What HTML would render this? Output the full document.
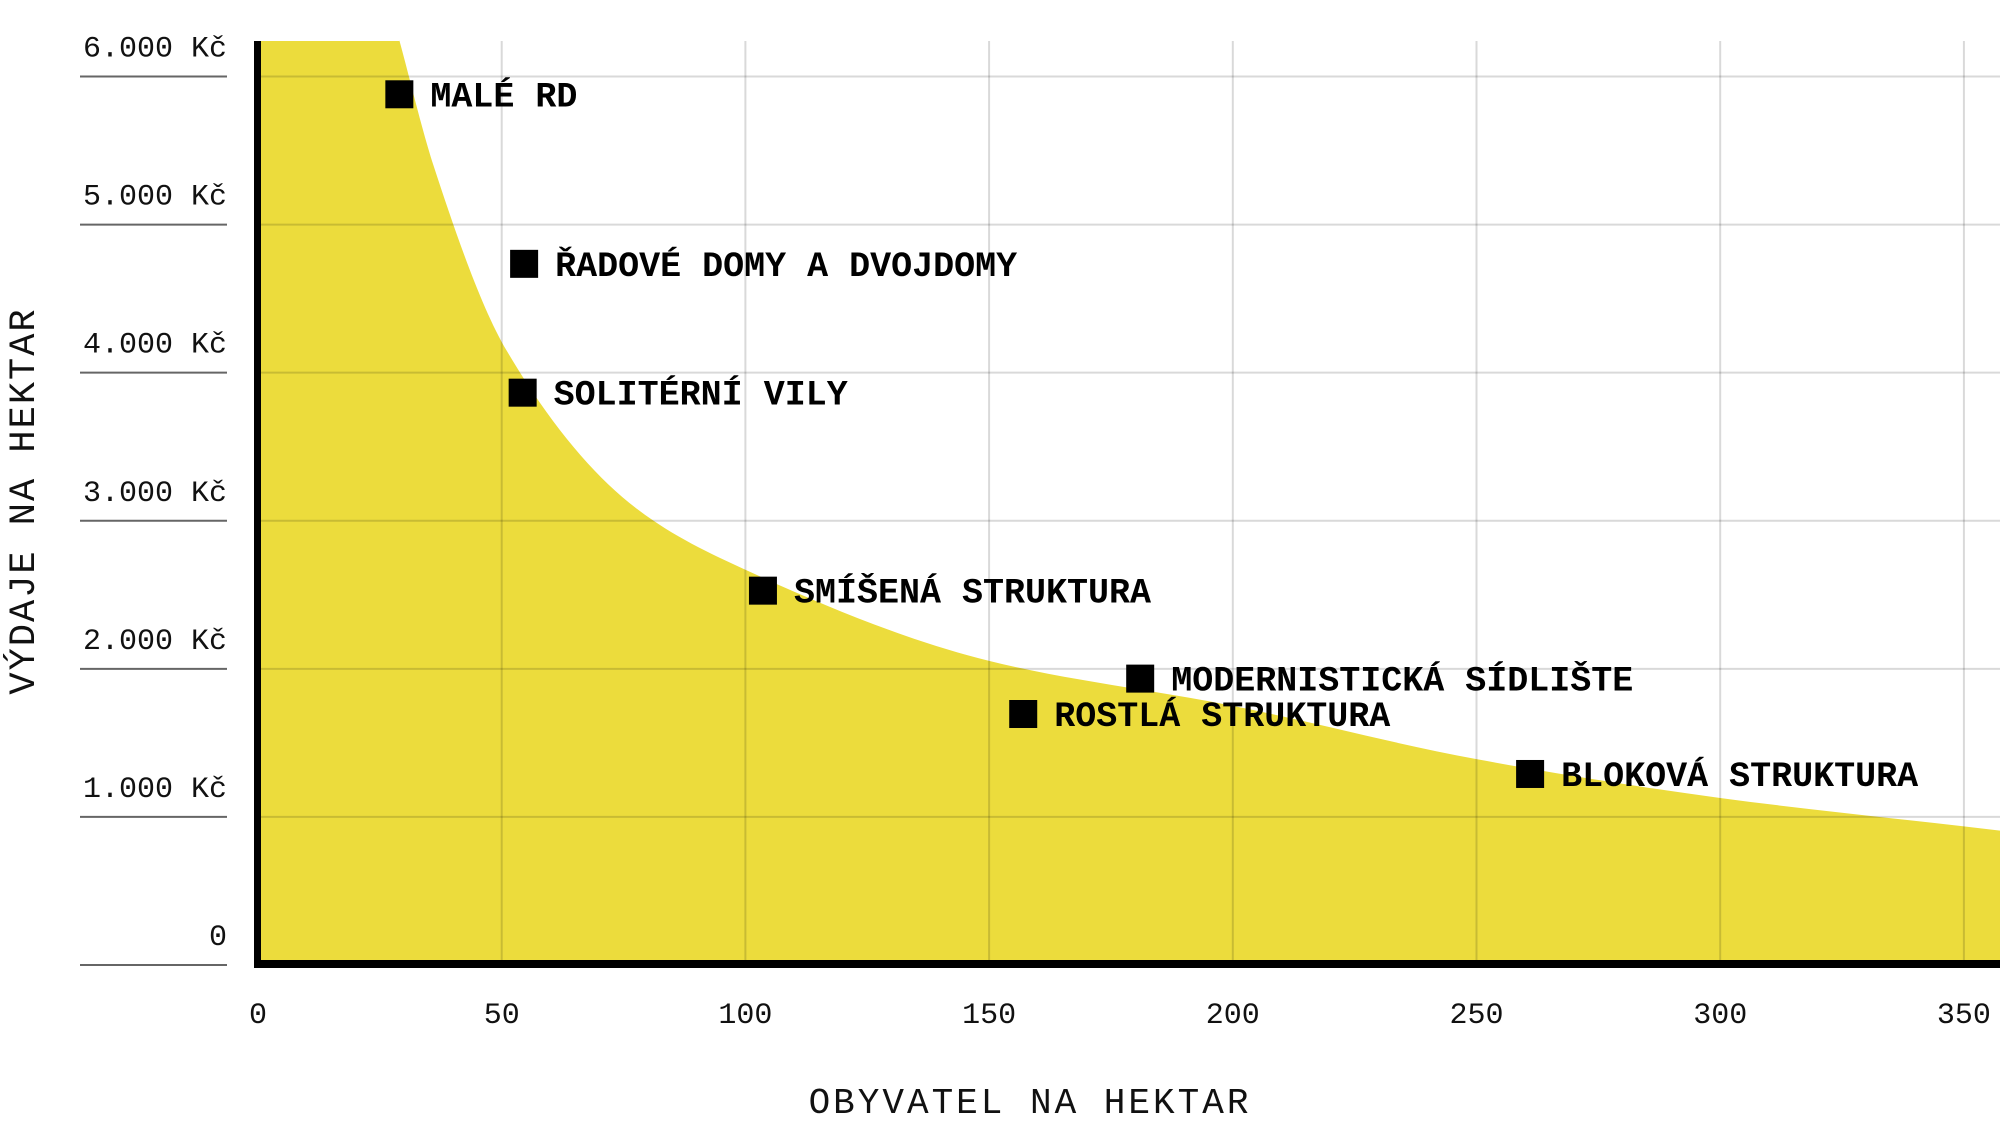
<!DOCTYPE html>
<html><head><meta charset="utf-8"><style>
html,body{margin:0;padding:0;background:#fff;}
svg{display:block;font-family:"Liberation Mono",monospace;}
</style></head><body>
<svg id="chart" width="2000" height="1129" viewBox="0 0 2000 1129">
<text x="1030" y="1113" font-size="36" letter-spacing="3" text-anchor="middle" fill="#111">OBYVATEL NA HEKTAR</text>
<text transform="translate(34,501) rotate(-90)" font-size="37" letter-spacing="2" text-anchor="middle" fill="#111">VÝDAJE NA HEKTAR</text>
</svg>
<script>
const xTicks = [0,50,100,150,200,250,300,350];
const yTicks = [0,1000,2000,3000,4000,5000,6000];
const yTickLabels = ["0","1.000 Kč","2.000 Kč","3.000 Kč","4.000 Kč","5.000 Kč","6.000 Kč"];
const curveX = [29,36,51,78,100,150,200,250,300,350];
const curveV = [6245,5400,4150,3074,2669,2054,1750,1390,1128,936];
const pointNames = ["MALÉ RD","ŘADOVÉ DOMY A DVOJDOMY","SOLITÉRNÍ VILY","SMÍŠENÁ STRUKTURA","MODERNISTICKÁ SÍDLIŠTE","ROSTLÁ STRUKTURA","BLOKOVÁ STRUKTURA"];
const pointX = [29,54.6,54.3,103.6,181,157,261];
const pointV = [5880,4735,3865,2528,1934,1695,1290];

const NS="http://www.w3.org/2000/svg";
const svg=document.getElementById('chart');
const X0=258, XS=4.874, Y0=965, YS=0.14808, TOP=41, BOTTOM=963;
const xs=v=>X0+v*XS, ys=v=>Y0-v*YS;
function mk(tag,attrs,parent){const e=document.createElementNS(NS,tag);for(const k in attrs)e.setAttribute(k,attrs[k]);(parent||svg).appendChild(e);return e;}

// monotone cubic (Fritsch-Carlson) in pixel space
const P=curveX.map((x,i)=>[xs(x),ys(curveV[i])]);
const n=P.length, dx=[], sl=[];
for(let i=0;i<n-1;i++){dx.push(P[i+1][0]-P[i][0]);sl.push((P[i+1][1]-P[i][1])/dx[i]);}
const m=[sl[0]];
for(let i=1;i<n-1;i++){ if(sl[i-1]*sl[i]<=0) m.push(0); else { const w1=2*dx[i]+dx[i-1], w2=dx[i]+2*dx[i-1]; m.push((w1+w2)/(w1/sl[i-1]+w2/sl[i])); } }
m.push(sl[n-2]);
let d=`M${X0},${TOP} L${P[0][0]},${TOP} L${P[0][0]},${P[0][1]}`;
for(let i=0;i<n-1;i++){
  const h=dx[i];
  d+=` C${P[i][0]+h/3},${P[i][1]+m[i]*h/3} ${P[i+1][0]-h/3},${P[i+1][1]-m[i+1]*h/3} ${P[i+1][0]},${P[i+1][1]}`;
}
const L=P[n-1];
d+=` L2000,${L[1]+m[n-1]*(2000-L[0])} L2000,${BOTTOM} L${X0},${BOTTOM} Z`;
const area=mk('path',{d:d,fill:'#ECDC3C'});



yTicks.forEach((v,i)=>{
  const y=ys(v);
  if(v>0){const g=mk('line',{x1:X0,x2:2000,y1:y,y2:y,stroke:'rgba(0,0,0,0.15)','stroke-width':2});
  
  }
  const t=mk('line',{x1:80,x2:227,y1:y,y2:y,stroke:'#666','stroke-width':2});
  
  
  const l=mk('text',{x:227,y:y-20,'font-size':30,'text-anchor':'end',fill:'#111'});
  l.textContent=yTickLabels[i];
  
  
});
xTicks.forEach(v=>{
  const x=xs(v);
  if(v>0){const g=mk('line',{x1:x,x2:x,y1:TOP,y2:BOTTOM,stroke:'rgba(0,0,0,0.15)','stroke-width':2});
  
  }
  const l=mk('text',{x:x,y:1023,'font-size':30,'text-anchor':'middle',fill:'#111'});
  l.textContent=String(v);
  
  
});
const ya=mk('rect',{x:X0-4,y:TOP,width:7,height:BOTTOM-TOP+4,fill:'#000'});


const xa=mk('rect',{x:X0-4,y:BOTTOM-3,width:2000,height:8,fill:'#000'});



pointNames.forEach((nm,i)=>{
  const cx=xs(pointX[i]), cy=ys(pointV[i]);
  const r=mk('rect',{x:cx-14,y:cy-14,width:28,height:28,fill:'#000'});
  
  
  const t=mk('text',{x:cx+31,y:cy+12,'font-size':35,'font-weight':'bold',fill:'#000'});
  t.textContent=nm;
  
  
});
</script>
</body></html>
